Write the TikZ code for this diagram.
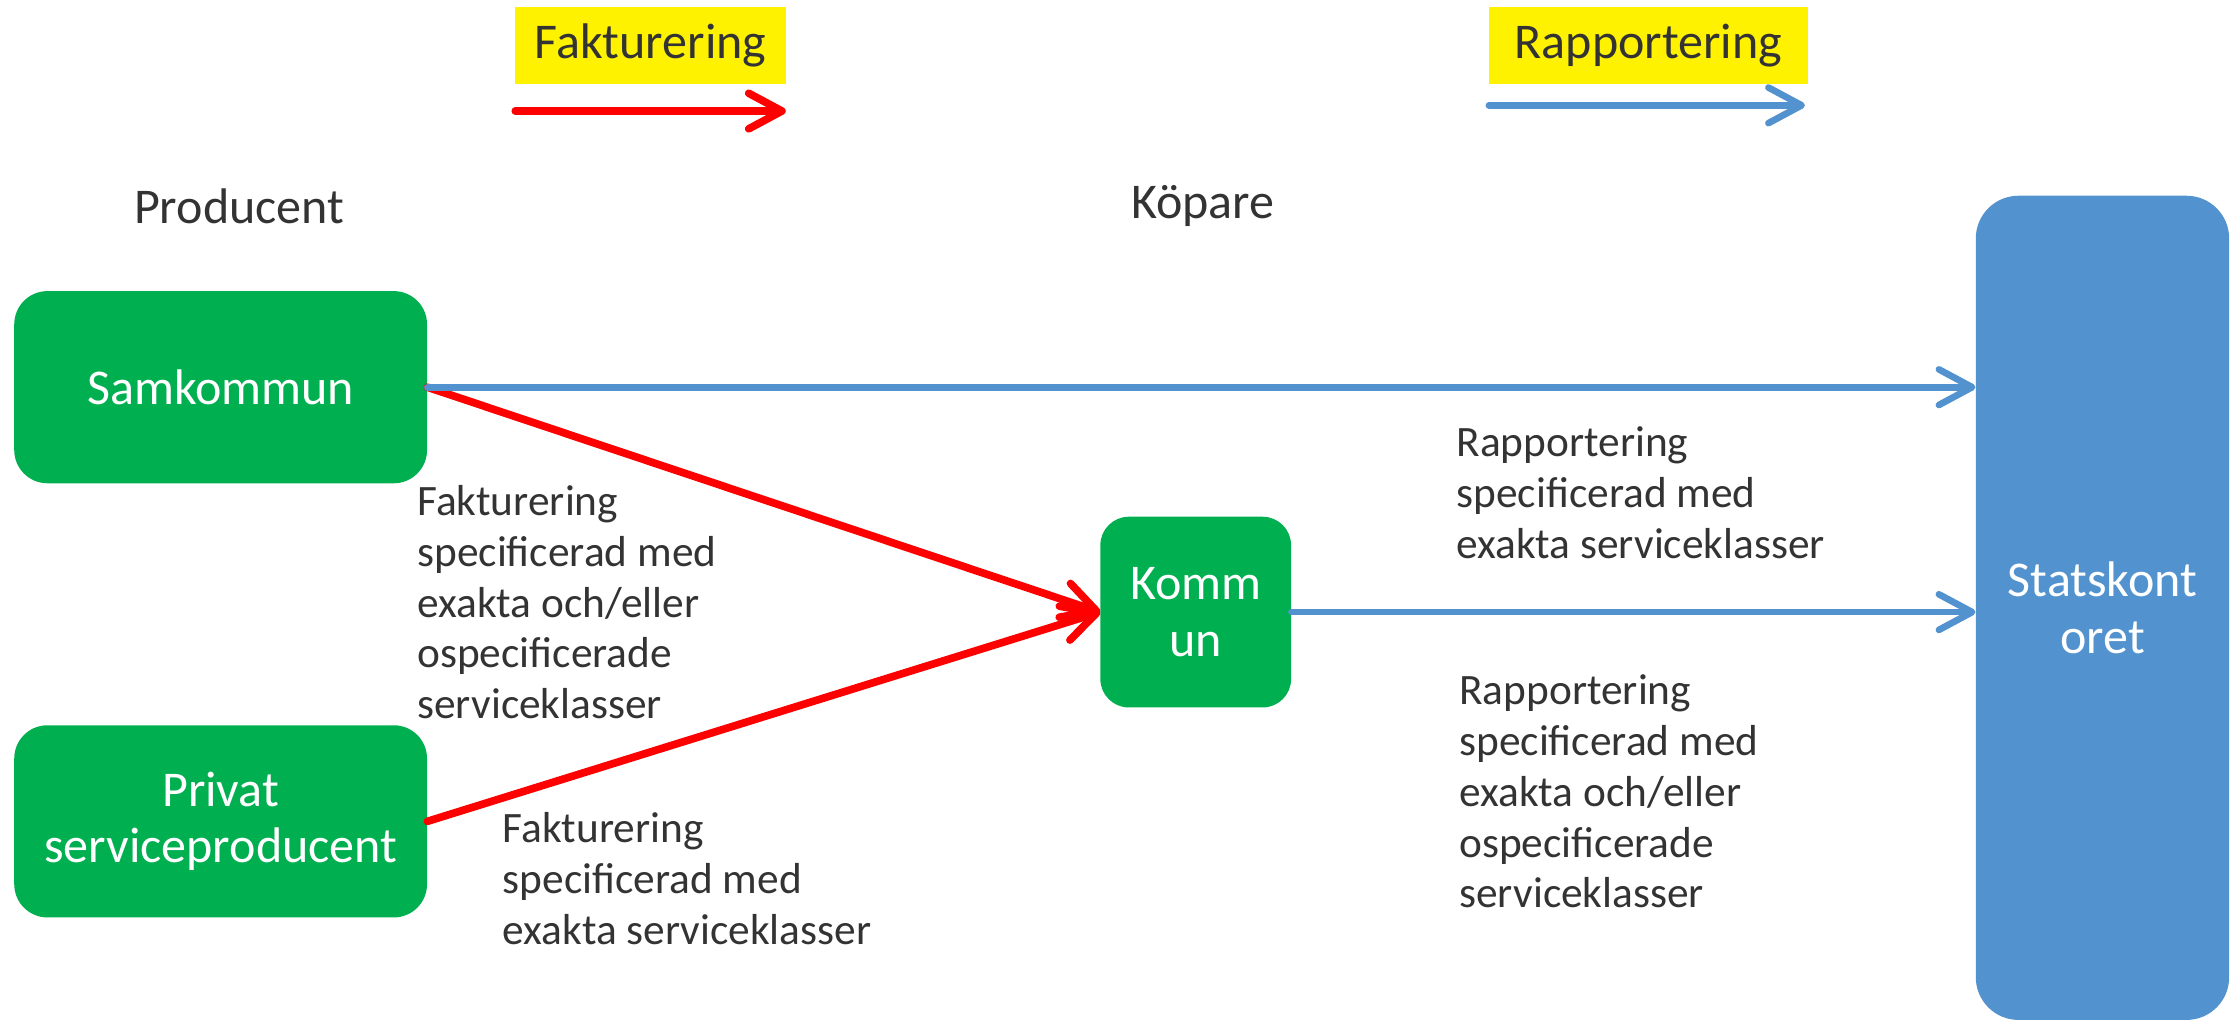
\documentclass[tikz,border=0pt]{standalone}
\usepackage{fontspec}
\setmainfont{Carlito}
\usetikzlibrary{arrows.meta}

\definecolor{actorgreen}{HTML}{00B050}
\definecolor{reportblue}{HTML}{5292CE}
\definecolor{textgray}{HTML}{333333}

\begin{document}
\begin{tikzpicture}[x=0.3mm,y=-0.3mm,
	every path/.style={>={Straight Barb[length=7mm,width=7.5mm,round]}},
	actor/.style={rectangle,rounded corners=7mm,fill=actorgreen,text=white,
		font=\fontsize{30}{34}\selectfont,align=center,inner sep=0pt,
		minimum width=87mm,minimum height=40.5mm},
	invoice/.style={draw=red,line width=4.6pt,line cap=round,->},
	report/.style={draw=reportblue,line width=4pt,line cap=round,->},
	note/.style={text=textgray,font=\fontsize{26}{30.5}\selectfont,align=left,
		anchor=west,inner sep=0pt},
	heading/.style={text=textgray,font=\fontsize{30}{34}\selectfont,inner sep=0pt},
	legendbox/.style={fill=yellow,text=textgray,font=\fontsize{30}{34}\selectfont,
		inner sep=0pt,minimum height=16.2mm}]

	% fix page size
	\useasboundingbox (0,0) rectangle (1568,717);

	% draw legend
	\node (legfakt) at (457,32) [legendbox,minimum width=57mm] {Fakturering};
	\node (legrapp) at (1158,32) [legendbox,minimum width=67.2mm] {Rapportering};
	\coordinate (faktA) at (362,78);
	\coordinate (faktB) at (552,78);
	\coordinate (rappA) at (1046,74);
	\coordinate (rappB) at (1268,74);
	\draw[invoice] (faktA) -- (faktB);
	\draw[report] (rappA) -- (rappB);

	% draw column headings
	\node (producent) at (168,145) [heading] {Producent};
	\node (kopare) at (845,145) [heading] {Köpare};

	% draw actors
	\node (samkommun) at (155,272) [actor] {Samkommun};
	\node (privat) at (155,577) [actor] {Privat\\serviceproducent};
	\node (kommun) at (840,430) [actor,rounded corners=6mm,
		minimum width=40.2mm,minimum height=40.2mm] {Komm\\un};
	\node (statskontoret) at (1477,427) [actor,fill=reportblue,rounded corners=9mm,
		minimum width=53.4mm,minimum height=173.7mm] {Statskont\\oret};

	% draw invoicing arrows to Kommun
	\draw[invoice] (samkommun.east) -- (kommun.west);
	\draw[invoice] (privat.east) -- (kommun.west);

	% draw reporting arrows to Statskontoret
	\draw[report] (samkommun.east) -- (samkommun.east -| statskontoret.west);
	\draw[report] (kommun.east) -- (kommun.east -| statskontoret.west);

	% draw notes
	\node (notesam) at (293,423) [note] {Fakturering\\specificerad med\\exakta och/eller\\ospecificerade\\serviceklasser};
	\node (notepriv) at (353,617) [note] {Fakturering\\specificerad med\\exakta serviceklasser};
	\node (noteup) at (1023,346) [note] {Rapportering\\specificerad med\\exakta serviceklasser};
	\node (notedown) at (1025,556) [note] {Rapportering\\specificerad med\\exakta och/eller\\ospecificerade\\serviceklasser};
\end{tikzpicture}
\end{document}
